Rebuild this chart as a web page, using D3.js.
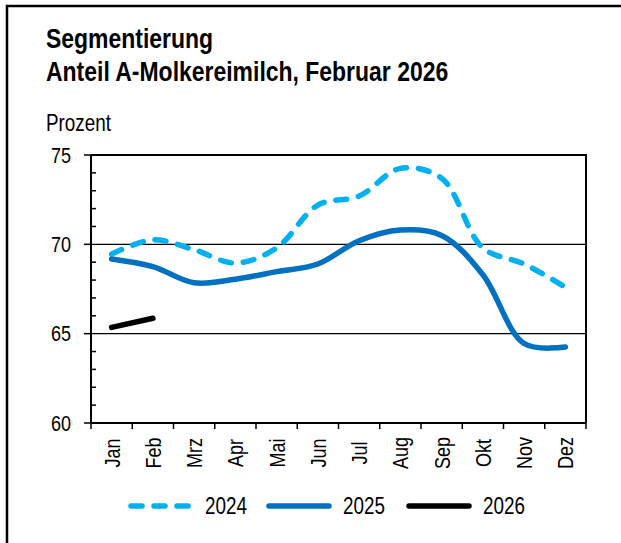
<!DOCTYPE html>
<html>
<head>
<meta charset="utf-8">
<script src="https://cdn.jsdelivr.net/npm/d3@7"></script>
<style>
  body { margin: 0; background: #fff; }
  text { font-family: "Liberation Sans", Arial, sans-serif; fill: #000; }
</style>
</head>
<body>
<svg width="621" height="543"></svg>
<script>
const months = ["Jan", "Feb", "Mrz", "Apr", "Mai", "Jun", "Jul", "Aug", "Sep", "Okt", "Nov", "Dez"];
const values2024 = [69.45, 70.25, 69.7, 68.95, 69.8, 72.2, 72.7, 74.25, 73.7, 69.8, 68.9, 67.6];
const values2025 = [69.18, 68.75, 67.85, 68.05, 68.47, 68.9, 70.2, 70.8, 70.5, 68.3, 64.45, 64.25];
const values2026 = [65.35, 65.86];
const yTicks = [60, 65, 70, 75];
const series = [
  {name: "2024", values: values2024, color: "#00b0f0", dash: "11,12"},
  {name: "2025", values: values2025, color: "#0070c0", dash: null},
  {name: "2026", values: values2026, color: "#000000", dash: null}
];

const svg = d3.select("svg");
const NARROW = 0.82;   // fake "Arial Narrow" by squeezing Liberation Sans

// text squeezed horizontally (in its own frame), optional rotation
function ntext(parent, x, y, str, size, opt = {}) {
  const t = parent.append("text")
      .attr("transform", `translate(${x},${y})` + (opt.rotate ? ` rotate(${opt.rotate})` : "") + ` scale(${NARROW},1)`)
      .attr("text-anchor", opt.anchor || "start")
      .attr("dy", opt.dy || null)
      .style("font-size", size + "px")
      .text(str);
  if (opt.bold) t.style("font-weight", "bold");
  return t;
}

// outer frame
svg.append("rect")
    .attr("x", 7).attr("y", 6)
    .attr("width", 640).attr("height", 560)
    .attr("fill", "none").attr("stroke", "#000").attr("stroke-width", 2.5);

ntext(svg, 46, 48, "Segmentierung", 28, {bold: true});
ntext(svg, 46, 81, "Anteil A-Molkereimilch, Februar 2026", 28, {bold: true});
ntext(svg, 46, 131, "Prozent", 23);

const x = d3.scaleBand().domain(months).range([91, 586]);
const y = d3.scaleLinear().domain([60, 75]).range([423, 155]);
const cx = d => x(d) + x.bandwidth() / 2;

// gridlines
svg.append("g").selectAll("line")
    .data(yTicks.filter(d => d > 60 && d < 75))
    .join("line")
    .attr("x1", x.range()[0]).attr("x2", x.range()[1])
    .attr("y1", d => y(d)).attr("y2", d => y(d))
    .attr("stroke", "#000").attr("stroke-width", 1.3);

// frame top and right
svg.append("path")
    .attr("d", `M${x.range()[0]},${y(75)}H${x.range()[1]}V${y(60)}`)
    .attr("fill", "none").attr("stroke", "#000").attr("stroke-width", 2);

// y axis
const yAxis = svg.append("g");
yAxis.append("line")
    .attr("x1", x.range()[0]).attr("x2", x.range()[0])
    .attr("y1", y(75)).attr("y2", y(60))
    .attr("stroke", "#000").attr("stroke-width", 2);
yAxis.selectAll(".maj").data(yTicks).join("line").attr("class", "maj")
    .attr("x1", x.range()[0] - 7).attr("x2", x.range()[0])
    .attr("y1", d => y(d)).attr("y2", d => y(d))
    .attr("stroke", "#000").attr("stroke-width", 1.5);
yAxis.selectAll(".min").data(d3.range(61, 75).filter(d => d % 5 !== 0)).join("line").attr("class", "min")
    .attr("x1", x.range()[0]).attr("x2", x.range()[0] + 5)
    .attr("y1", d => y(d)).attr("y2", d => y(d))
    .attr("stroke", "#000").attr("stroke-width", 1.5);
yTicks.forEach(d => ntext(yAxis, 71, y(d), String(d), 22, {anchor: "end", dy: "0.35em"}));

// x axis
const xAxis = svg.append("g");
xAxis.append("line")
    .attr("x1", x.range()[0]).attr("x2", x.range()[1])
    .attr("y1", y(60)).attr("y2", y(60))
    .attr("stroke", "#000").attr("stroke-width", 2);
xAxis.selectAll(".xt")
    .data(d3.range(months.length + 1))
    .join("line")
    .attr("class", "xt")
    .attr("x1", i => x.range()[0] + i * x.step())
    .attr("x2", i => x.range()[0] + i * x.step())
    .attr("y1", y(60)).attr("y2", y(60) + 6)
    .attr("stroke", "#000").attr("stroke-width", 1.5);
months.forEach(m => ntext(xAxis, cx(m) + 8, 453, m, 22, {anchor: "middle", rotate: -90}));

// lines
const line = d3.line()
    .x((d, i) => cx(months[i]))
    .y(d => y(d))
    .curve(d3.curveCatmullRom.alpha(0.5));

svg.append("g").selectAll("path")
    .data(series)
    .join("path")
    .attr("d", d => line(d.values))
    .attr("fill", "none")
    .attr("stroke", d => d.color)
    .attr("stroke-width", 5.5)
    .attr("stroke-linecap", "round")
    .attr("stroke-dasharray", d => d.dash);

// legend
const legendPos = [131, 269, 409];
const legend = svg.append("g").selectAll("g")
    .data(series)
    .join("g")
    .attr("transform", (d, i) => `translate(${legendPos[i]},506)`);
legend.append("line")
    .attr("x1", 0).attr("x2", 60)
    .attr("stroke", d => d.color)
    .attr("stroke-width", 5.5)
    .attr("stroke-linecap", "round")
    .attr("stroke-dasharray", d => d.dash);
legend.each(function (d) {
  ntext(d3.select(this), 74, 8, d.name, 23);
});
</script>
</body>
</html>
